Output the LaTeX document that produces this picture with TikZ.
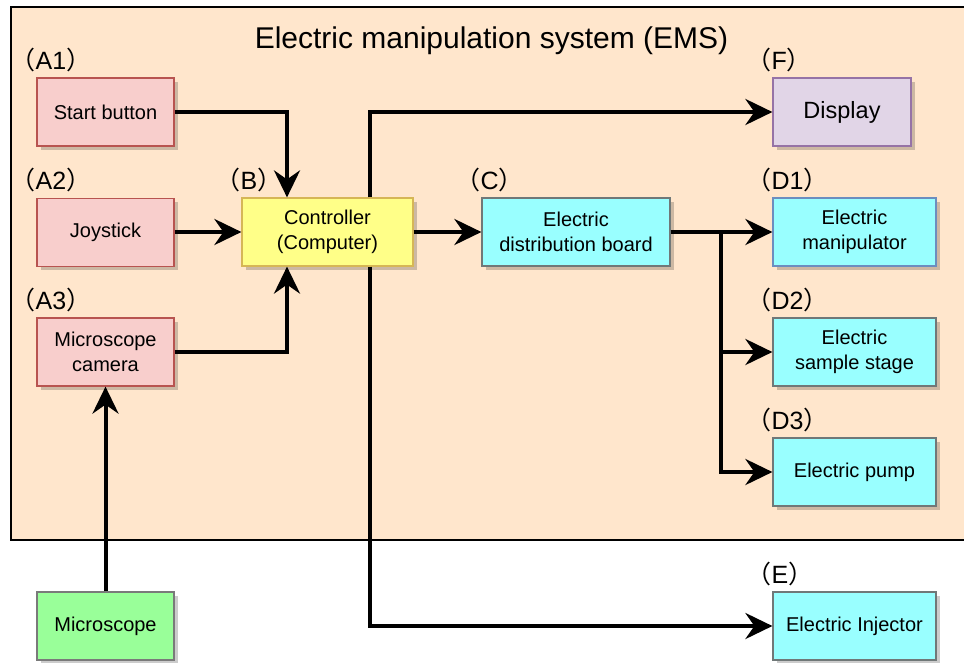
\documentclass[tikz,border=0pt]{standalone}
\usepackage{fontspec}
\setmainfont{Liberation Sans}
\newfontfamily\cjk{Noto Sans CJK SC}
\usetikzlibrary{arrows.meta,shadows,calc}

\definecolor{panel}{HTML}{FFE6CC}
\definecolor{pinkfill}{HTML}{F8CECC}
\definecolor{pinkline}{HTML}{B85450}
\definecolor{yelfill}{HTML}{FFFF88}
\definecolor{yelline}{HTML}{D6B656}
\definecolor{cyanfill}{HTML}{99FFFF}
\definecolor{cyanline}{HTML}{707878}
\definecolor{blueline}{HTML}{6C8EBF}
\definecolor{purfill}{HTML}{E1D5E7}
\definecolor{purline}{HTML}{9673A6}
\definecolor{grnfill}{HTML}{99FF99}
\definecolor{grnline}{HTML}{7A7A7A}

\tikzset{
  block/.style={rectangle, inner sep=0pt, line width=1.2pt, align=center,
    font=\fontsize{20}{25}\selectfont,
    drop shadow={shadow xshift=3.5pt, shadow yshift=-3.5pt, fill=black, opacity=0.2}},
  smallblk/.style={block, minimum width=137pt, minimum height=68pt},
  wideblk/.style={block, minimum width=163pt, minimum height=68pt},
  inputbox/.style={smallblk, fill=pinkfill, draw=pinkline},
  ctrlbox/.style={block, minimum width=171pt, minimum height=68pt, fill=yelfill, draw=yelline},
  outbox/.style={wideblk, fill=cyanfill, draw=cyanline},
  tag/.style={anchor=base west, inner sep=0pt, font=\fontsize{25}{25}\selectfont},
  arr/.style={line width=4pt, -{Stealth[length=27pt,width=26pt,inset=9pt]}},
  wire/.style={line width=4pt}
}
\newcommand{\tagtext}[1]{{\cjk （}#1{\cjk ）}}

\begin{document}
\begin{tikzpicture}[x=1pt,y=-1pt]
\useasboundingbox (0,0) rectangle (964,662);
% system panel
\draw[fill=panel, line width=1.5pt] (11,7) rectangle (970,540);
\node[font=\fontsize{30}{30}\selectfont, anchor=base] (title) at (491.5,48) {Electric manipulation system (EMS)};

% blocks
\node[inputbox] (A1) at (105.5,112) {Start button};
\node[inputbox] (A2) at (105.5,232.5) {Joystick};
\node[inputbox] (A3) at (105.5,352) {Microscope\\camera};
\node[smallblk, fill=grnfill, draw=grnline] (mic) at (105.5,626) {Microscope};
\node[ctrlbox] (B) at (327.5,232) {Controller\\(Computer)};
\node[block, minimum width=188pt, minimum height=68pt, fill=cyanfill, draw=cyanline] (C) at (576,232) {Electric\\distribution board};
\node[block, minimum width=138pt, minimum height=68pt, fill=purfill, draw=purline, font=\fontsize{23.5}{28}\selectfont] (F) at (842,112) {Display};
\node[outbox, draw=blueline] (D1) at (854.5,232) {Electric\\manipulator};
\node[outbox] (D2) at (854.5,352) {Electric\\sample stage};
\node[outbox] (D3) at (854.5,472) {Electric pump};
\node[outbox] (E) at (854.5,626) {Electric Injector};

% tags above the blocks
\foreach \n/\t in {A1/A1, A2/A2, A3/A3, B/B, C/C, F/F, D1/D1, D2/D2, D3/D3, E/E}
  \node[tag] (tag\n) at ($(\n.north west)+(-26,-8)$) {\tagtext{\t}};

% routing points
\coordinate (inx) at (287,0);
\coordinate (busx) at (370,0);
\coordinate (splitx) at (721,0);

% connectors
\draw[arr] (A1.east) -| (B.north -| inx);
\draw[arr] (A2.east |- B.west) -- (B.west);
\draw[arr] (A3.east) -| (B.south -| inx);
\draw[arr] (mic.north) -- (A3.south);
\draw[arr] (B.north -| busx) |- (F.west);
\draw[arr] (B.south -| busx) |- (E.west);
\draw[arr] (B.east) -- (C.west);
\draw[arr] (C.east) -- (D1.west);
\draw[wire] (C.east -| splitx) -- (D3.west -| splitx);
\draw[arr] (D2.west -| splitx) -- (D2.west);
\draw[arr] ($(D3.west -| splitx)+(0,-2)$) |- (D3.west);
\end{tikzpicture}
\end{document}
